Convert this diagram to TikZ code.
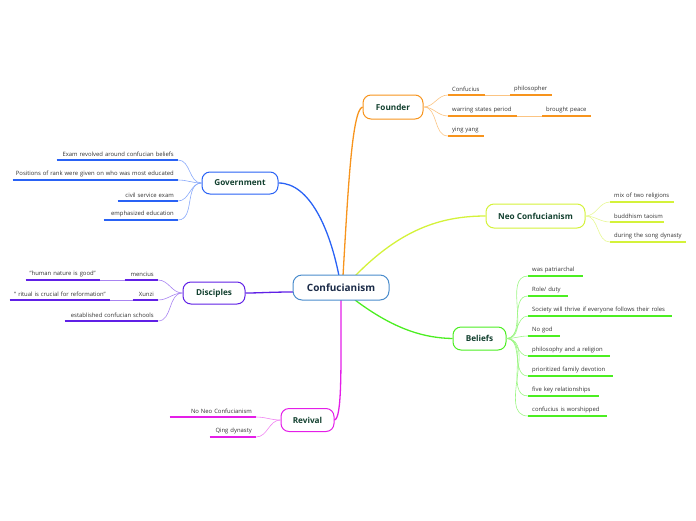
\documentclass[tikz,border=0pt]{standalone}
\usepackage{fontspec}
\setmainfont{Open Sans}
\definecolor{fc}{HTML}{F7941D}
\definecolor{gc}{HTML}{2962F5}
\definecolor{dc}{HTML}{6020E6}
\definecolor{rc}{HTML}{E41EE8}
\definecolor{nc}{HTML}{D4F23A}
\definecolor{bc}{HTML}{4CEE22}
\definecolor{cc}{HTML}{4A8CCC}
\definecolor{maintext}{HTML}{12402F}
\definecolor{centtext}{HTML}{1B2B48}
\definecolor{leaftext}{HTML}{333333}
\tikzset{
  mainbox/.style={draw=#1, line width=1pt, rounded corners=8pt, fill=white, text=maintext,
    font=\bfseries\fontsize{8.2}{9}\selectfont, inner sep=0pt},
  leaf/.style={inner xsep=0pt, inner ysep=3pt, text=leaftext, font=\fontsize{5.9}{6.5}\selectfont},
  uline/.style={draw=#1, line width=1.4pt},
  mconn/.style={draw=#1, line width=1.3pt},
  lconn/.style={draw=#1!55, line width=0.6pt},
}
\newcommand\leafR[6]{% name, x, y, width, color, text
  \node[leaf, anchor=south west, text width=#4pt, align=left] (#1) at (#2,#3) {\hspace*{4pt}#6};
  \draw[uline=#5] (#1.south west) -- (#1.south east);}
\newcommand\leafL[6]{% name, xright, y, width, color, text
  \node[leaf, anchor=south east, text width=#4pt, align=right] (#1) at (#2,#3) {#6\hspace*{4pt}};
  \draw[uline=#5] (#1.south west) -- (#1.south east);}
\begin{document}
\begin{tikzpicture}[x=1pt,y=-1pt]
\useasboundingbox (0,0) rectangle (696,520);

% main nodes
\node[mainbox=fc, minimum width=60pt, minimum height=24pt] (f) at (393,107) {Founder};
\node[mainbox=gc, minimum width=76pt, minimum height=22pt] (g) at (240,183) {Government};
\node[mainbox=dc, minimum width=62pt, minimum height=22pt] (d) at (214,293) {Disciples};
\node[mainbox=rc, minimum width=53pt, minimum height=23pt] (r) at (307.5,420) {Revival};
\node[mainbox=nc, minimum width=99pt, minimum height=24pt] (n) at (535.5,216) {Neo Confucianism};
\node[mainbox=bc, minimum width=53pt, minimum height=23pt] (b) at (479.5,338.5) {Beliefs};

% main connectors
\draw[mconn=fc] (343,276) .. controls (348,190) and (352,110) .. (f.west);
\draw[mconn=gc] (339,276) .. controls (330,230) and (310,183) .. (g.east);
\draw[mconn=dc] (293,292) .. controls (270,292) and (260,293) .. (d.east);
\draw[mconn=rc] (341,300) .. controls (341,370) and (342,418) .. (r.east);
\draw[mconn=nc] (355,276) .. controls (400,230) and (440,216) .. (n.west);
\draw[mconn=bc] (355,300) .. controls (395,330) and (425,338) .. (b.west);

% central
\node[draw=cc, line width=1pt, rounded corners=9pt, fill=white, text=centtext,
  font=\bfseries\fontsize{10}{11}\selectfont, minimum width=96pt, minimum height=25pt, inner sep=0pt]
  (c) at (341,287.5) {Confucianism};

% Founder leaves
\leafR{f1}{448}{95}{37}{fc}{Confucius}
\leafR{f1a}{510}{95}{42}{fc}{philosopher}
\leafR{f2}{448}{116}{69}{fc}{warring states period}
\leafR{f2a}{542}{116}{49}{fc}{brought peace}
\leafR{f3}{448}{136}{36}{fc}{ying yang}
\draw[lconn=fc] (f1.south east) -- (f1a.south west);
\draw[lconn=fc] (f2.south east) -- (f2a.south west);
\foreach \t in {f1,f2,f3} \draw[lconn=fc] (f.east) to[out=0,in=180] (\t.south west);

% Neo leaves
\leafR{n1}{610}{202}{64}{nc}{mix of two religions}
\leafR{n2}{610}{222}{54}{nc}{buddhism taoism}
\leafR{n3}{610}{242}{76}{nc}{during the song dynasty}
\foreach \t in {n1,n2,n3} \draw[lconn=nc] (n.east) to[out=0,in=180] (\t.south west);

% Beliefs leaves
\leafR{b1}{528}{276}{55}{bc}{was patriarchal}
\leafR{b2}{528}{296}{40}{bc}{Role/ duty}
\leafR{b3}{528}{316}{144}{bc}{Society will thrive if everyone follows their roles}
\leafR{b4}{528}{336}{32}{bc}{No god}
\leafR{b5}{528}{356}{82}{bc}{philosophy and a religion}
\leafR{b6}{528}{376}{85}{bc}{prioritized family devotion}
\leafR{b7}{528}{396}{71}{bc}{five key relationships}
\leafR{b8}{528}{416}{79}{bc}{confucius is worshipped}
\foreach \t in {b1,b2,b3,b4,b5,b6,b7,b8} \draw[lconn=bc] (b.east) to[out=0,in=180] (\t.south west);

% Government leaves
\leafL{g1}{178}{160}{121}{gc}{Exam revolved around confucian beliefs}
\leafL{g2}{178}{180}{165}{gc}{Positions of rank were given on who was most educated}
\leafL{g3}{178}{201}{60}{gc}{civil service exam}
\leafL{g4}{178}{220}{74}{gc}{emphasized education}
\foreach \t in {g1,g2,g3,g4} \draw[lconn=gc] (g.west) to[out=180,in=0] (\t.south east);

% Disciples leaves
\leafL{d1}{158}{280}{33}{dc}{mencius}
\leafL{d1a}{100}{280}{74}{dc}{"human nature is good"}
\leafL{d2}{158}{300}{25}{dc}{Xunzi}
\leafL{d2a}{110}{300}{100}{dc}{" ritual is crucial for reformation"}
\leafL{d3}{158}{321}{93}{dc}{established confucian schools}
\draw[lconn=dc] (d1a.south east) -- (d1.south west);
\draw[lconn=dc] (d2a.south east) -- (d2.south west);
\foreach \t in {d1,d2,d3} \draw[lconn=dc] (d.west) to[out=180,in=0] (\t.south east);

% Revival leaves
\leafL{r1}{256}{417}{86}{rc}{No Neo Confucianism}
\leafL{r2}{256}{437}{46}{rc}{Qing dynasty}
\foreach \t in {r1,r2} \draw[lconn=rc] (r.west) to[out=180,in=0] (\t.south east);
\end{tikzpicture}
\end{document}
